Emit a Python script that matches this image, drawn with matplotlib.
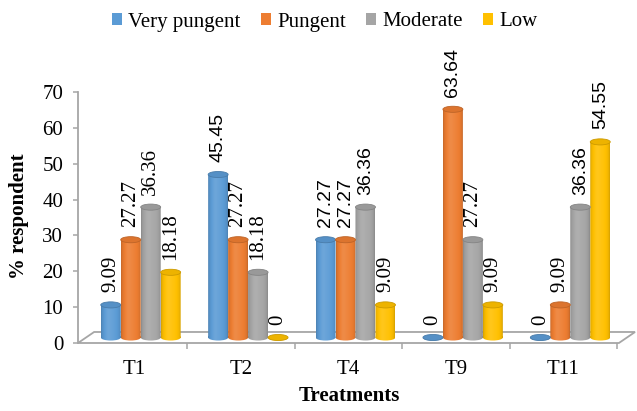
import numpy as np
import matplotlib
matplotlib.use("Agg")
import matplotlib.pyplot as plt
from matplotlib.patches import Ellipse, Patch, Polygon, PathPatch
from matplotlib.path import Path
from matplotlib.transforms import Affine2D
from matplotlib.font_manager import FontProperties
from matplotlib.colors import to_rgb

# Survey data: % of respondents per pungency class
treatments = ["T1", "T2", "T4", "T9", "T11"]
very_pungent = [9.09, 45.45, 27.27, 0, 0]
pungent = [27.27, 27.27, 27.27, 63.64, 9.09]
moderate = [36.36, 18.18, 36.36, 27.27, 36.36]
low = [18.18, 0, 9.09, 9.09, 54.55]
series_names = ["Very pungent", "Pungent", "Moderate", "Low"]
colors = ["#5B9BD5", "#ED7D31", "#A5A5A5", "#FFC000"]

# which value labels come out in the sans face (rest are serif)
sans_labels = [
    [False, False, False, False],
    [True, False, False, False],
    [True, True, True, False],
    [False, True, False, False],
    [False, False, True, True],
]

series = [very_pungent, pungent, moderate, low]

serif15 = FontProperties(family="Liberation Serif", size=15)
serif15b = FontProperties(family="Liberation Serif", size=15, weight="bold")
sans14 = FontProperties(family="Liberation Sans", size=14)

fig = plt.figure(figsize=(6.37, 4.11), dpi=100)
ax = fig.add_axes([78 / 637, 68 / 411, 558 / 637, 251 / 411])


def shade(rgb, f):
    rgb = np.array(rgb)
    if f <= 1:
        return rgb * f
    return rgb + (1 - rgb) * min((f - 1) * 1.5, 1)


# floor of the 3-D plot
depth_x, depth_y = 0.15, 3.07
x_front_l, x_front_r = -0.519, 4.518
floor = Polygon([(x_front_l, 0), (x_front_r, 0),
                 (x_front_r + depth_x, depth_y), (x_front_l + depth_x, depth_y)],
                closed=True, facecolor="white", edgecolor="#a6a6a6", lw=1.3,
                clip_on=False, zorder=1)
ax.add_patch(floor)

bar_w = 0.186
group_shift = 0.065
base = depth_y / 2
ell_h = 1.7

# cylinder lighting across the bar width
t = np.linspace(0, 1, 64)
profile = 0.78 + 0.26 * np.sin(np.pi * t) ** 0.35
profile += 0.04 * np.exp(-((t - 0.35) / 0.15) ** 2)

for j, vals in enumerate(series):
    rgb = to_rgb(colors[j])
    grad = np.array([[shade(rgb, f) for f in profile]])
    top_face = shade(rgb, 0.93)
    top_edge = shade(rgb, 0.8)
    for i, v in enumerate(vals):
        xc = i + group_shift + (j - 1.5) * bar_w
        x0 = xc - bar_w / 2
        top = base + v
        rect = Path([(x0, base), (x0 + bar_w, base), (x0 + bar_w, top), (x0, top), (x0, base)],
                    [Path.MOVETO, Path.LINETO, Path.LINETO, Path.LINETO, Path.CLOSEPOLY])
        ell = Path.unit_circle().transformed(
            Affine2D().scale(bar_w / 2, ell_h / 2).translate(xc, base))
        clip = PathPatch(Path.make_compound_path(rect, ell), transform=ax.transData)
        im = ax.imshow(grad, extent=(x0, x0 + bar_w, base - ell_h / 2, top),
                       aspect="auto", interpolation="bicubic", zorder=3)
        im.set_clip_path(clip)
        ax.add_patch(Ellipse((xc, top), bar_w, ell_h, facecolor=top_face,
                             edgecolor=top_edge, lw=0.6, zorder=4))
        label = "0" if v == 0 else f"{v:.2f}"
        ax.annotate(label, (xc, top), xytext=(0, 9), textcoords="offset points",
                    rotation=90, ha="center", va="bottom",
                    fontproperties=sans14 if sans_labels[i][j] else serif15,
                    zorder=5)

ax.set_xlim(-0.519, 4.677)
ax.set_ylim(0, 70)

# axes styling
for s in ["top", "right", "bottom"]:
    ax.spines[s].set_visible(False)
ax.spines["left"].set_color("#a6a6a6")
ax.spines["left"].set_linewidth(1.3)
ax.set_yticks(range(0, 71, 10))
ax.tick_params(axis="y", length=3.6, width=1.1, color="#a6a6a6", pad=7)
ax.set_xticks(range(len(treatments)))
ax.set_xticklabels(treatments)
ax.set_xticks([k - 0.5 for k in range(1, 6)], minor=True)
ax.tick_params(axis="x", which="major", length=0, pad=12)
ax.tick_params(axis="x", which="minor", length=4.5, width=1.1, color="#a6a6a6")
for lab in ax.get_xticklabels() + ax.get_yticklabels():
    lab.set_fontproperties(serif15)

fig.text(19 / 637, 1 - 216 / 411, "% respondent", rotation=90, ha="center",
         va="center", fontproperties=serif15b)
fig.text(349 / 637, 1 - 396 / 411, "Treatments", ha="center", va="center",
         fontproperties=serif15b)

handles = [Patch(facecolor=c, edgecolor="none") for c in colors]
fig.legend(handles, series_names, loc="center", bbox_to_anchor=(0.51, 1 - 22 / 411),
           ncol=4, frameon=False, handlelength=0.45, handleheight=0.45,
           handletextpad=0.3, columnspacing=1.0, borderaxespad=0,
           prop=serif15)

fig.savefig("out.png", dpi=100)
